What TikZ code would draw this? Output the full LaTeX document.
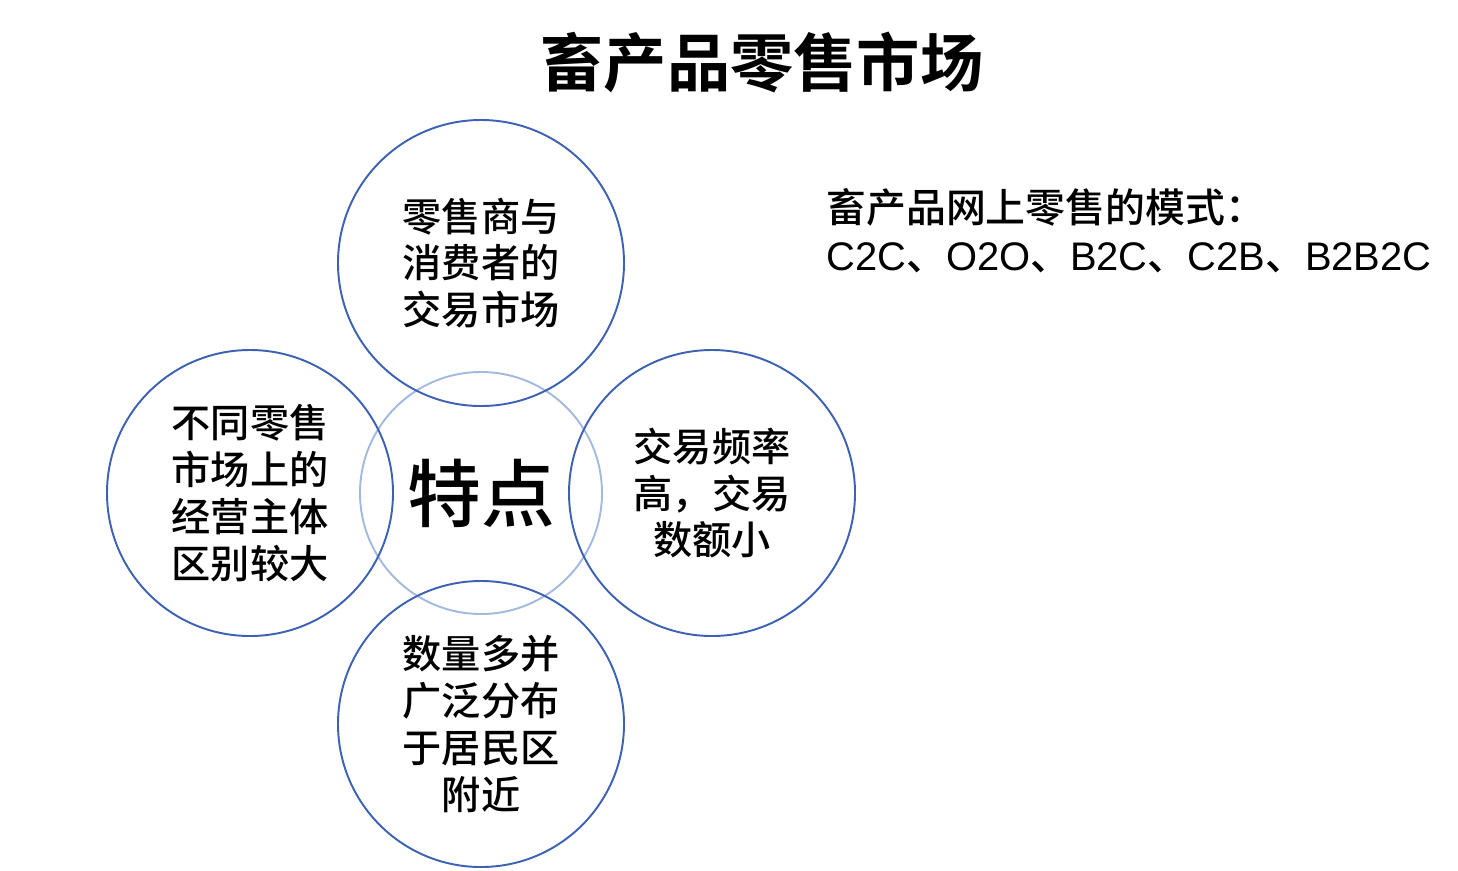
\documentclass[tikz,border=0pt]{standalone}
\usepackage{fontspec}
\setmainfont{Liberation Sans}
\newfontfamily\cjk[BoldFont={Noto Sans CJK SC Bold}]{Noto Sans CJK SC}
\newfontfamily\cjkmid{Noto Sans CJK SC Medium}
\usetikzlibrary{positioning}
\definecolor{ringblue}{HTML}{3D62B3}
\definecolor{coreblue}{HTML}{A4B9DF}
\tikzset{
  title/.style={font=\cjk\bfseries\fontsize{36}{40}\selectfont,inner sep=0},
  petal/.style={circle,draw=ringblue,line width=1.1pt,minimum size=5.72cm,inner sep=0,align=center,
                font=\cjkmid\fontsize{22.3}{26.6}\selectfont},
  % the centre ring is lighter and smaller
  core/.style={circle,draw=coreblue,line width=1.1pt,minimum size=4.84cm,inner sep=0,
               font=\cjkmid\fontsize{42}{46}\selectfont},
  note/.style={align=left,inner sep=0,font=\fontsize{22.7}{27.3}\selectfont},
}
\begin{document}
\begin{tikzpicture}
  \useasboundingbox (0,0) rectangle (29.16,-17.4);
  \node[title] (title) at (15.24,-1.26) {畜产品零售市场};
  \node[core] (core) at (9.62,-9.86) {特点};
  \node[petal] (top) at (9.62,-5.26) {零售商与\\消费者的\\交易市场};
  \node[petal] (left) at (5.0,-9.86) {不同零售\\市场上的\\经营主体\\区别较大};
  \node[petal] (right) at (14.24,-9.86) {交易频率\\高，交易\\数额小};
  \node[petal] (bottom) at (9.62,-14.48) {数量多并\\广泛分布\\于居民区\\附近};
  \node[note,anchor=west] (modes) at (16.52,-4.62)
    {{\cjkmid 畜产品网上零售的模式：}\\C2C{\cjkmid 、}O2O{\cjkmid 、}B2C{\cjkmid 、}C2B{\cjkmid 、}B2B2C};
\end{tikzpicture}
\end{document}
